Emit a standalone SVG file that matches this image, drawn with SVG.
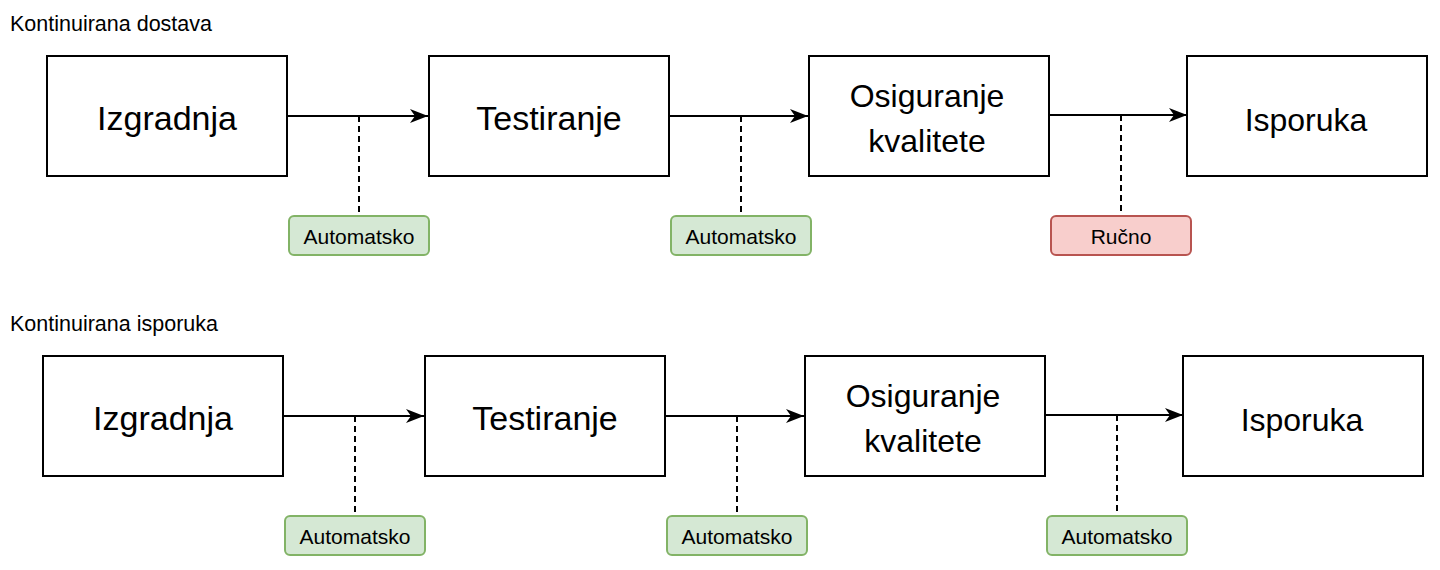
<svg xmlns="http://www.w3.org/2000/svg" width="1440" height="570" viewBox="0 0 1440 570">
  <style>
    text { font-family: "Liberation Sans", Arial, Helvetica, sans-serif; fill: #000; }
    .box { fill: #fff; stroke: #000; stroke-width: 2; }
    .big { font-size: 34px; text-anchor: middle; }
    .mid { font-size: 32px; text-anchor: middle; }
    .title { font-size: 21.5px; }
    .lbl { font-size: 21px; text-anchor: middle; }
    .auto { fill: #d5e8d4; stroke: #82b366; stroke-width: 2; }
    .man { fill: #f8cecc; stroke: #b85450; stroke-width: 2; }
    .arrow { stroke: #000; stroke-width: 2; fill: none; marker-end: url(#ah); }
    .dash { stroke: #000; stroke-width: 2; fill: none; stroke-dasharray: 6 4; }
  </style>
  <defs>
    <marker id="ah" markerUnits="userSpaceOnUse" viewBox="0 0 18 14" markerWidth="18" markerHeight="14" refX="18" refY="7" orient="auto">
      <path d="M0,0 L18,7 L0,14 L5,7 z" fill="#000"/>
    </marker>
  </defs>
  <rect width="1440" height="570" fill="#fff"/>

  <!-- Row 1: Kontinuirana dostava -->
  <text id="title1" class="title" x="10" y="31">Kontinuirana dostava</text>

  <g id="connectors1">
    <line class="arrow" x1="287" y1="116" x2="428" y2="116"/>
    <line class="arrow" x1="669" y1="116" x2="808" y2="116"/>
    <line class="arrow" x1="1049" y1="115" x2="1187" y2="115"/>
    <line class="dash" x1="359" y1="116" x2="359" y2="216"/>
    <line class="dash" x1="741" y1="116" x2="741" y2="216"/>
    <line class="dash" x1="1121" y1="115" x2="1121" y2="216"/>
  </g>

  <g id="r1-izgradnja">
    <rect class="box" x="47" y="56" width="240" height="120"/>
    <text class="big" x="167" y="130">Izgradnja</text>
  </g>
  <g id="r1-testiranje">
    <rect class="box" x="429" y="56" width="240" height="120"/>
    <text class="big" x="549" y="130">Testiranje</text>
  </g>
  <g id="r1-osiguranje">
    <rect class="box" x="809" y="56" width="240" height="120"/>
    <text class="mid" x="927" y="107">Osiguranje</text>
    <text class="mid" x="927" y="152">kvalitete</text>
  </g>
  <g id="r1-isporuka">
    <rect class="box" x="1187" y="56" width="240" height="120"/>
    <text class="mid" x="1306" y="131">Isporuka</text>
  </g>
  <g id="r1-label1">
    <rect class="auto" x="289" y="216" width="140" height="39" rx="5"/>
    <text class="lbl" x="359" y="244">Automatsko</text>
  </g>
  <g id="r1-label2">
    <rect class="auto" x="671" y="216" width="140" height="39" rx="5"/>
    <text class="lbl" x="741" y="244">Automatsko</text>
  </g>
  <g id="r1-label3">
    <rect class="man" x="1051" y="216" width="140" height="39" rx="5"/>
    <text class="lbl" x="1121" y="244">Ručno</text>
  </g>

  <!-- Row 2: Kontinuirana isporuka -->
  <text id="title2" class="title" x="10" y="331">Kontinuirana isporuka</text>

  <g id="connectors2">
    <line class="arrow" x1="283" y1="416" x2="424" y2="416"/>
    <line class="arrow" x1="665" y1="416" x2="804" y2="416"/>
    <line class="arrow" x1="1045" y1="415" x2="1183" y2="415"/>
    <line class="dash" x1="355" y1="416" x2="355" y2="516"/>
    <line class="dash" x1="737" y1="416" x2="737" y2="516"/>
    <line class="dash" x1="1117" y1="415" x2="1117" y2="516"/>
  </g>

  <g id="r2-izgradnja">
    <rect class="box" x="43" y="356" width="240" height="120"/>
    <text class="big" x="163" y="430">Izgradnja</text>
  </g>
  <g id="r2-testiranje">
    <rect class="box" x="425" y="356" width="240" height="120"/>
    <text class="big" x="545" y="430">Testiranje</text>
  </g>
  <g id="r2-osiguranje">
    <rect class="box" x="805" y="356" width="240" height="120"/>
    <text class="mid" x="923" y="407">Osiguranje</text>
    <text class="mid" x="923" y="452">kvalitete</text>
  </g>
  <g id="r2-isporuka">
    <rect class="box" x="1183" y="356" width="240" height="120"/>
    <text class="mid" x="1302" y="431">Isporuka</text>
  </g>
  <g id="r2-label1">
    <rect class="auto" x="285" y="516" width="140" height="39" rx="5"/>
    <text class="lbl" x="355" y="544">Automatsko</text>
  </g>
  <g id="r2-label2">
    <rect class="auto" x="667" y="516" width="140" height="39" rx="5"/>
    <text class="lbl" x="737" y="544">Automatsko</text>
  </g>
  <g id="r2-label3">
    <rect class="auto" x="1047" y="516" width="140" height="39" rx="5"/>
    <text class="lbl" x="1117" y="544">Automatsko</text>
  </g>
</svg>
